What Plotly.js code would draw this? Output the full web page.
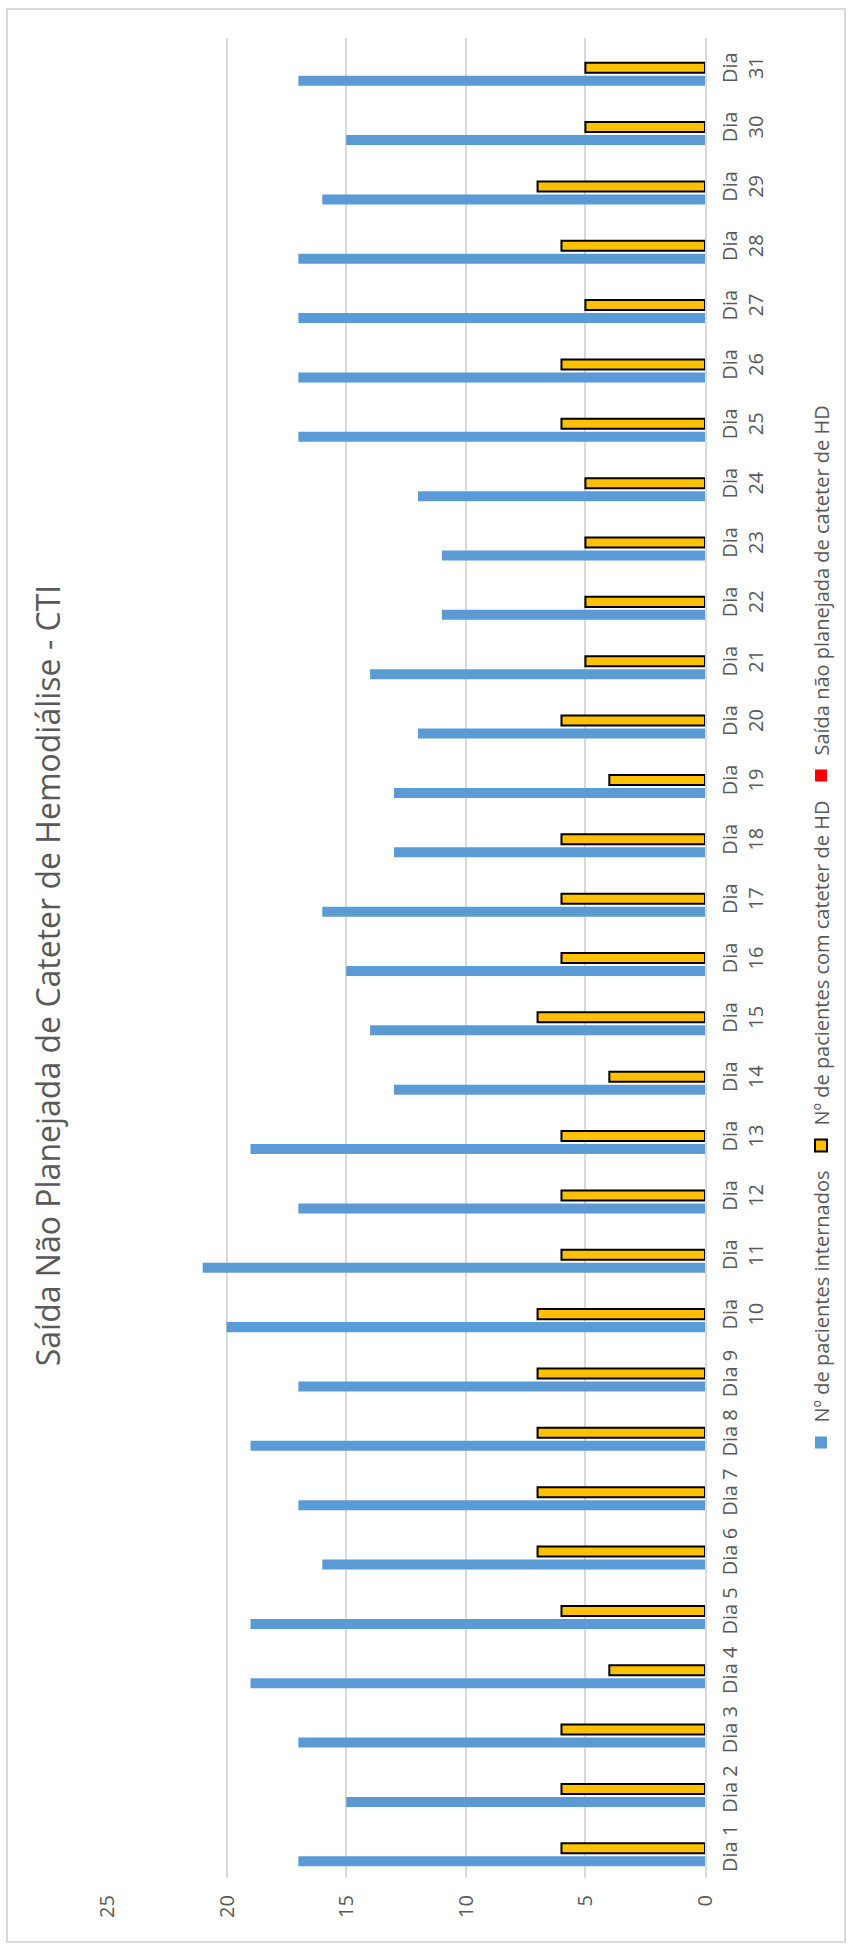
<!DOCTYPE html>
<html>
<head>
<meta charset="utf-8">
<script src="https://cdn.plot.ly/plotly-3.0.1.min.js"></script>
<style>
  html, body { margin: 0; padding: 0; background: #ffffff; width: 851px; height: 1950px; overflow: hidden; }
  #rot { position: absolute; left: 0; top: 0; width: 1950px; height: 851px;
         transform-origin: 0 0; transform: translateY(1950px) rotate(-90deg); background: #ffffff; }
  #frame { position: absolute; left: 7px; top: 6px; width: 1935px; height: 840px;
           box-sizing: border-box; border: 2px solid #D9D9D9; }
  #chart { position: absolute; left: 7px; top: 6px; width: 1935px; height: 840px; }
</style>
</head>
<body>
<div id="rot">
  <div id="frame"></div>
  <div id="chart"></div>
</div>
<script>
const categories = ['Dia 1','Dia 2','Dia 3','Dia 4','Dia 5','Dia 6','Dia 7','Dia 8','Dia 9','Dia 10',
  'Dia 11','Dia 12','Dia 13','Dia 14','Dia 15','Dia 16','Dia 17','Dia 18','Dia 19','Dia 20',
  'Dia 21','Dia 22','Dia 23','Dia 24','Dia 25','Dia 26','Dia 27','Dia 28','Dia 29','Dia 30','Dia 31'];
const tickLabels = ['Dia 1','Dia 2','Dia 3','Dia 4','Dia 5','Dia 6','Dia 7','Dia 8','Dia 9','Dia<br>10',
  'Dia<br>11','Dia<br>12','Dia<br>13','Dia<br>14','Dia<br>15','Dia<br>16','Dia<br>17','Dia<br>18','Dia<br>19','Dia<br>20',
  'Dia<br>21','Dia<br>22','Dia<br>23','Dia<br>24','Dia<br>25','Dia<br>26','Dia<br>27','Dia<br>28','Dia<br>29','Dia<br>30','Dia<br>31'];
const internados = [17,15,17,19,19,16,17,19,17,20,21,17,19,13,14,15,16,13,13,12,14,11,11,12,17,17,17,17,16,15,17];
const comCateter = [6,6,6,4,6,7,7,7,7,7,6,6,6,4,7,6,6,6,4,6,5,5,5,5,6,6,5,6,7,5,5];
const saidaNaoPlanejada = [0,0,0,0,0,0,0,0,0,0,0,0,0,0,0,0,0,0,0,0,0,0,0,0,0,0,0,0,0,0,0];
const seriesNames = ['Nº de pacientes internados','Nº de pacientes com cateter de HD','Saída não planejada de cateter de HD'];
const titleText = 'Saída Não Planejada de Cateter de Hemodiálise - CTI';
const valueTicks = [0,5,10,15,20,25];

const FONT = '"Open Sans", "Noto Sans", "Liberation Sans", sans-serif';
const GREY = '#595959';

const traces = [
  { type: 'bar', name: seriesNames[0], x: categories, y: internados,
    marker: { color: '#5B9BD5', line: { width: 0 } } },
  { type: 'bar', name: seriesNames[1], x: categories, y: comCateter,
    marker: { color: '#FFC000', line: { color: '#000000', width: 2 } } },
  { type: 'bar', name: seriesNames[2], x: categories, y: saidaNaoPlanejada,
    marker: { color: '#FF0000', line: { width: 0 } } }
];

const layout = {
  width: 1935, height: 840,
  margin: { l: 65, r: 30, t: 101, b: 141, pad: 0 },
  paper_bgcolor: 'rgba(0,0,0,0)', plot_bgcolor: 'rgba(0,0,0,0)',
  font: { family: FONT, color: GREY, size: 20 },
  title: { text: titleText, font: { family: FONT, size: 32, color: GREY },
           x: 0.5, xref: 'container', xanchor: 'center',
           y: 1 - 32/840, yref: 'container', yanchor: 'top' },
  barmode: 'group', bargap: 0.343, bargroupgap: 0.23,
  showlegend: true,
  legend: { orientation: 'h', x: 0.523, xref: 'container', xanchor: 'center',
            y: 25/840, yref: 'container', yanchor: 'middle',
            font: { family: FONT, size: 20, color: GREY }, itemwidth: 30,
            traceorder: 'normal', bgcolor: 'rgba(0,0,0,0)' },
  xaxis: { type: 'category', categoryorder: 'array', categoryarray: categories,
           tickmode: 'array', tickvals: categories, ticktext: tickLabels,
           tickangle: 0, ticks: '', showline: true, linecolor: '#D9D9D9', linewidth: 2,
           showgrid: false, zeroline: false, ticklabelstandoff: 6,
           tickfont: { family: FONT, size: 20, color: GREY }, fixedrange: true },
  yaxis: { range: [0, 25], tickmode: 'array', tickvals: valueTicks, ticktext: valueTicks.map(String),
           showgrid: true, gridcolor: '#D9D9D9', gridwidth: 2, zeroline: false,
           showline: false, ticks: '', ticklabelstandoff: 16,
           tickfont: { family: FONT, size: 20, color: GREY }, fixedrange: true }
};

Plotly.newPlot('chart', traces, layout, { staticPlot: true, displayModeBar: false });
</script>
</body>
</html>
